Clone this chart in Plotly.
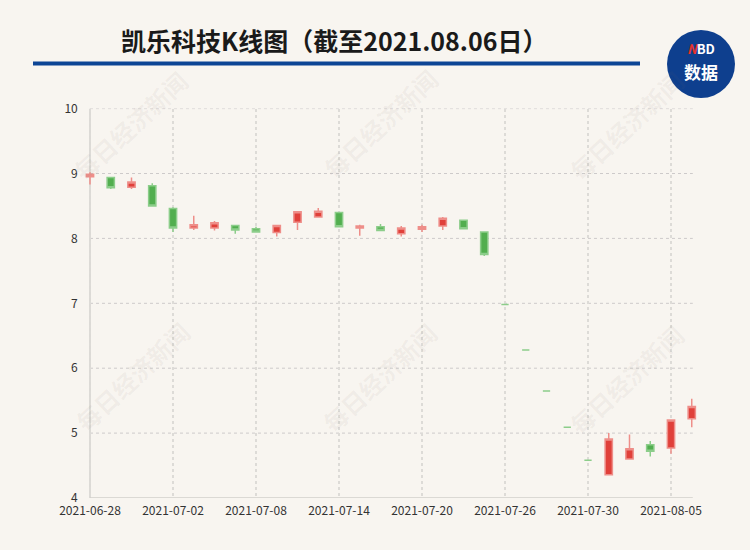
import plotly.graph_objects as go

dates = ['2021-06-28', '2021-06-29', '2021-06-30', '2021-07-01', '2021-07-02',
         '2021-07-05', '2021-07-06', '2021-07-07', '2021-07-08', '2021-07-09',
         '2021-07-12', '2021-07-13', '2021-07-14', '2021-07-15', '2021-07-16',
         '2021-07-19', '2021-07-20', '2021-07-21', '2021-07-22', '2021-07-23',
         '2021-07-26', '2021-07-27', '2021-07-28', '2021-07-29', '2021-07-30',
         '2021-08-02', '2021-08-03', '2021-08-04', '2021-08-05', '2021-08-06']
opens = [8.95, 8.94, 8.79, 8.81, 8.46, 8.16, 8.16, 8.20, 8.15, 8.09,
         8.25, 8.33, 8.40, 8.16, 8.18, 8.07, 8.14, 8.19, 8.28, 8.10,
         6.98, 6.28, 5.65, 5.09, 4.58, 4.36, 4.60, 4.82, 4.77, 5.22]
highs = [9.02, 8.95, 8.94, 8.85, 8.48, 8.35, 8.27, 8.21, 8.18, 8.20,
         8.41, 8.47, 8.41, 8.21, 8.22, 8.19, 8.21, 8.33, 8.29, 8.11,
         6.98, 6.28, 5.65, 5.09, 4.58, 5.00, 4.98, 4.88, 5.20, 5.53]
lows = [8.83, 8.76, 8.76, 8.50, 8.10, 8.13, 8.12, 8.07, 8.10, 8.03,
        8.13, 8.32, 8.17, 8.04, 8.12, 8.03, 8.10, 8.13, 8.15, 7.73,
        6.98, 6.28, 5.65, 5.09, 4.58, 4.36, 4.60, 4.64, 4.68, 5.09]
closes = [8.99, 8.78, 8.87, 8.50, 8.16, 8.21, 8.24, 8.13, 8.10, 8.20,
          8.41, 8.42, 8.18, 8.19, 8.12, 8.16, 8.18, 8.31, 8.15, 7.75,
          6.98, 6.28, 5.65, 5.09, 4.58, 4.91, 4.76, 4.72, 5.20, 5.41]
tick_dates = dates[0::4]
y_ticks = [4, 5, 6, 7, 8, 9, 10]
title_text = '凯乐科技K线图（截至2021.08.06日）'
watermark = '每日经济新闻'

W, H = 750, 550
BG = '#f8f5f0'
RED, RED_L = '#e0403a', '#ee8e89'
GRN, GRN_L = '#52ae4f', '#8ccd8a'

def px(x):
    return x / W

def py(y):
    return 1 - y / H

fig = go.Figure()
fig.add_trace(go.Candlestick(
    x=dates, open=opens, high=highs, low=lows, close=closes,
    increasing=dict(fillcolor=RED, line=dict(color=RED_L, width=1.5)),
    decreasing=dict(fillcolor=GRN, line=dict(color=GRN_L, width=1.5)),
    whiskerwidth=0, showlegend=False, hoverinfo='skip'))

shapes = []
for v in y_ticks[1:]:
    shapes.append(dict(type='line', xref='x', yref='y', x0=0, x1=29.05, y0=v, y1=v,
                       line=dict(color='#cdcaca', width=1, dash='3px,3px'), layer='below'))
shapes.append(dict(type='line', xref='x', yref='y', x0=0, x1=0, y0=4, y1=10,
                   line=dict(color='#dcdad6', width=2), layer='below'))
shapes.append(dict(type='line', xref='x', yref='y', x0=0, x1=29.05, y0=4, y1=4,
                   line=dict(color='#d2cfcb', width=1.5), layer='below'))
shapes.append(dict(type='line', xref='paper', yref='paper', x0=px(33), x1=px(640),
                   y0=py(63.5), y1=py(63.5), line=dict(color='#0d4595', width=4)))
cx, cy, r = 701, 64, 34
shapes.append(dict(type='circle', xref='paper', yref='paper',
                   x0=px(cx - r), x1=px(cx + r), y0=py(cy + r), y1=py(cy - r),
                   fillcolor='#0e3f8e', line=dict(width=0)))

def ann(text, x, y, size, color, angle=0):
    return dict(text=text, xref='paper', yref='paper', x=px(x), y=py(y),
                xanchor='center', yanchor='middle', showarrow=False, textangle=angle,
                font=dict(family='Noto Sans CJK SC', size=size, color=color))

annotations = []
for (wx, wy) in [(130, 125), (380, 123), (626, 125),
                 (132, 376), (379, 377), (626, 379)]:
    annotations.append(ann('<b>' + watermark + '</b>', wx, wy, 24,
                           'rgba(120,110,100,0.07)', -43))
annotations += [
    ann('<b>' + title_text + '</b>', 334, 40, 25, '#1a1a1a'),
    ann('<b><i><span style="color:#e8332a">N</span></i>BD</b>', cx, 48, 13, 'white'),
    ann('<b>数据</b>', cx, 71, 17, 'white'),
]

x_l = 90 - 0.3 * 20.75
x_r = 90 + 29.3 * 20.75
fig.update_layout(
    width=W, height=H,
    margin=dict(l=0, r=0, t=0, b=0, autoexpand=False),
    paper_bgcolor=BG, plot_bgcolor=BG,
    boxgap=0.5,
    shapes=shapes, annotations=annotations,
    xaxis=dict(type='category', domain=[px(x_l), px(x_r)], range=[-0.3, 29.3],
               rangeslider=dict(visible=False),
               tickmode='array', tickvals=tick_dates, ticktext=tick_dates,
               showgrid=True, gridcolor='#dddbd7', griddash='dot', gridwidth=1.5,
               showline=False, zeroline=False, ticks='', ticklabelstandoff=4,
               tickfont=dict(family='Noto Sans CJK SC', size=12, color='#333')),
    yaxis=dict(domain=[py(498), py(108.6)], range=[4, 10],
               tickmode='array', tickvals=y_ticks,
               showgrid=False, zeroline=False, showline=False, ticks='',
               ticklabelstandoff=5,
               tickfont=dict(family='Noto Sans CJK SC', size=12, color='#333')),
)

fig.write_html('out.html', config={'displayModeBar': False},
               post_script="document.body.style.margin='0';document.body.style.background='#f8f5f0';")
